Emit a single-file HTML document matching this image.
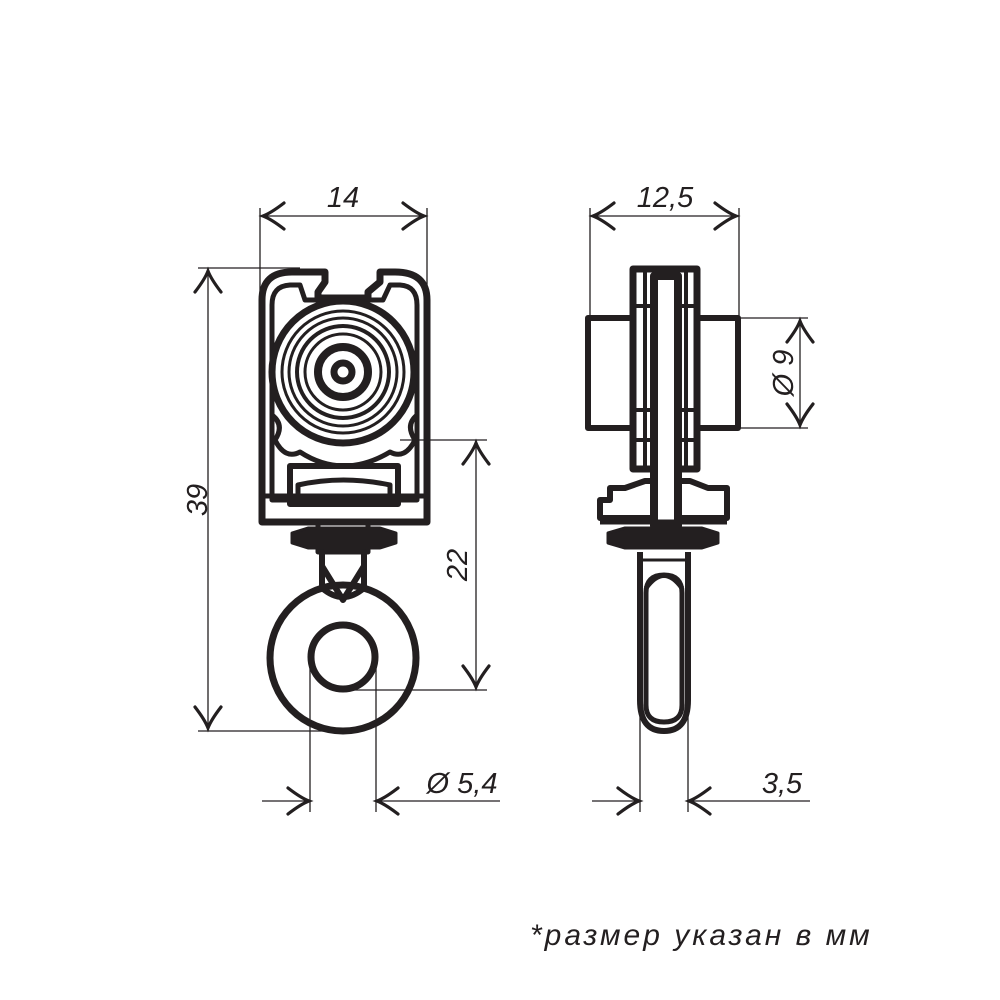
<!DOCTYPE html>
<html><head><meta charset="utf-8"><style>
html,body{margin:0;padding:0;background:#fff}
svg{display:block}
text{font-family:"Liberation Sans","DejaVu Sans",sans-serif;font-style:italic;fill:#231f20}
</style></head><body>
<svg width="1000" height="1000" viewBox="0 0 1000 1000" xmlns="http://www.w3.org/2000/svg">
<defs>
<path id="ah" d="M22,-13 Q9,-3 1,0 Q9,3 22,13" fill="none" stroke="#231f20" stroke-width="3.2" stroke-linecap="round"/>
</defs>
<g stroke="#231f20" stroke-width="1.3" fill="none">
<line x1="260" y1="208" x2="260" y2="300"/><line x1="427" y1="208" x2="427" y2="290"/>
<line x1="262" y1="216" x2="425" y2="216"/>
<line x1="198" y1="268" x2="300" y2="268"/><line x1="198" y1="731" x2="330" y2="731"/>
<line x1="208" y1="270" x2="208" y2="729"/>
<line x1="400" y1="440" x2="487" y2="440"/><line x1="343" y1="690" x2="487" y2="690"/>
<line x1="476" y1="442" x2="476" y2="688"/>
<line x1="310" y1="660" x2="310" y2="812"/><line x1="376" y1="660" x2="376" y2="812"/>
<line x1="262" y1="801" x2="310" y2="801"/><line x1="376" y1="801" x2="500" y2="801"/>
<line x1="590" y1="208" x2="590" y2="430"/><line x1="739" y1="208" x2="739" y2="318"/>
<line x1="592" y1="216" x2="737" y2="216"/>
<line x1="738" y1="318" x2="808" y2="318"/><line x1="738" y1="428" x2="808" y2="428"/>
<line x1="800" y1="320" x2="800" y2="426"/>
<line x1="640" y1="700" x2="640" y2="812"/><line x1="688" y1="700" x2="688" y2="812"/>
<line x1="592" y1="801" x2="640" y2="801"/><line x1="688" y1="801" x2="810" y2="801"/>
</g>
<g>
<use href="#ah" transform="translate(262,216)"/><use href="#ah" transform="translate(425,216) rotate(180)"/>
<use href="#ah" transform="translate(208,270) rotate(90)"/><use href="#ah" transform="translate(208,729) rotate(-90)"/>
<use href="#ah" transform="translate(476,442) rotate(90)"/><use href="#ah" transform="translate(476,688) rotate(-90)"/>
<use href="#ah" transform="translate(310,801) rotate(180)"/><use href="#ah" transform="translate(376,801)"/>
<use href="#ah" transform="translate(592,216)"/><use href="#ah" transform="translate(737,216) rotate(180)"/>
<use href="#ah" transform="translate(800,320) rotate(90)"/><use href="#ah" transform="translate(800,426) rotate(-90)"/>
<use href="#ah" transform="translate(640,801) rotate(180)"/><use href="#ah" transform="translate(688,801)"/>
</g>
<g font-size="29">
<text x="343" y="207" text-anchor="middle">14</text>
<text x="665" y="207" text-anchor="middle">12,5</text>
<text transform="translate(207,500) rotate(-90)" text-anchor="middle">39</text>
<text transform="translate(467,565) rotate(-90)" text-anchor="middle">22</text>
<text transform="translate(793,373) rotate(-90)" text-anchor="middle">Ø 9</text>
<text x="462" y="793" text-anchor="middle">Ø 5,4</text>
<text x="782" y="793" text-anchor="middle">3,5</text>
</g>
<text x="530" y="945" font-size="30" style="letter-spacing:3px">*размер указан в мм</text>

<g stroke="#231f20" fill="none" stroke-linecap="round" stroke-linejoin="round">
<path d="M262,522 L262,300 Q262,272 292,272 L300,272 L308,272 L325,272 L325,282 L318,292 L318,298 L368,298 L368,292 L380,282 L380,272 L395,272 Q427,272 427,300 L427,522 Z" stroke-width="7"/>
<path d="M272,500 L272,305 Q272,286 290,285 L300,285 L305,300 L383,300 L390,285 L400,285 Q417,286 417,305 L417,500 Z" stroke-width="5"/>
<circle cx="343" cy="372" r="71" stroke-width="7" fill="#fff"/>
<circle cx="343" cy="372" r="61" stroke-width="3"/>
<circle cx="343" cy="372" r="54" stroke-width="3"/>
<circle cx="343" cy="372" r="46" stroke-width="4"/>
<circle cx="343" cy="372" r="38" stroke-width="3"/>
<circle cx="343" cy="372" r="25" stroke-width="8"/>
<circle cx="343" cy="372" r="9" stroke-width="7"/>
<path d="M272,415 Q285,425 275,440 Q285,460 300,452 Q343,480 390,452 Q405,460 415,440 Q405,425 417,415" stroke-width="5"/>
<rect x="290" y="466" width="108" height="38" stroke-width="6"/>
<path d="M298,485 Q343,475 390,485 L390,498 L298,498 Z" stroke-width="5"/>
<line x1="262" y1="496" x2="427" y2="496" stroke-width="5"/>
<rect x="318" y="522" width="50" height="30" stroke-width="5"/>
<path d="M292,533 L308,528 L380,528 L396,533 L396,543 L380,548 L308,548 L292,543Z" fill="#231f20" stroke-width="3"/>
<path d="M322,552 L322,588 M364,552 L364,588 M322,566 L343,600 L364,566" stroke-width="6"/>
<path d="M322,588 Q343,606 364,588" stroke-width="6"/>
<circle cx="343" cy="658" r="73" stroke-width="7" fill="none"/>
<circle cx="343" cy="657" r="32" stroke-width="7"/>
</g>

<g stroke="#231f20" fill="none" stroke-linejoin="round">
<rect x="588" y="318" width="150" height="110" stroke-width="6" fill="#fff"/>
<rect x="633" y="269" width="64" height="200" stroke-width="7" fill="#fff"/>
<line x1="645" y1="272" x2="645" y2="468" stroke-width="4"/>
<line x1="686" y1="272" x2="686" y2="468" stroke-width="4"/>
<rect x="654" y="276" width="24" height="250" stroke-width="8" fill="#fff"/>
<line x1="633" y1="306" x2="654" y2="306" stroke-width="4"/><line x1="678" y1="306" x2="697" y2="306" stroke-width="4"/>
<line x1="633" y1="410" x2="654" y2="410" stroke-width="4"/><line x1="678" y1="410" x2="697" y2="410" stroke-width="4"/>
<line x1="633" y1="440" x2="654" y2="440" stroke-width="4"/><line x1="678" y1="440" x2="697" y2="440" stroke-width="4"/>
<path d="M625,488 L645,481 L654,481 L654,518 L600,518 L600,500 L610,500 L610,488Z" stroke-width="6"/>
<path d="M678,481 L690,481 L708,488 L727,488 L727,518 L678,518Z" stroke-width="6"/>
<line x1="600" y1="522" x2="727" y2="522" stroke-width="5"/>
<path d="M608,533 L625,528 L702,528 L718,533 L718,543 L702,548 L625,548 L608,543Z" fill="#231f20" stroke-width="3"/>
<path d="M640,552 L640,700 Q640,731 664,731 Q688,731 688,700 L688,552" stroke-width="6"/>
<line x1="642" y1="560" x2="686" y2="560" stroke-width="3"/>
<path d="M646,593 Q646,575 664,575 Q682,575 682,593 L682,705 Q682,722 664,722 Q646,722 646,705Z" stroke-width="5" fill="#fff"/>
<path d="M646,588 Q664,563 682,588" stroke-width="5"/>
</g>
</svg>
</body></html>
